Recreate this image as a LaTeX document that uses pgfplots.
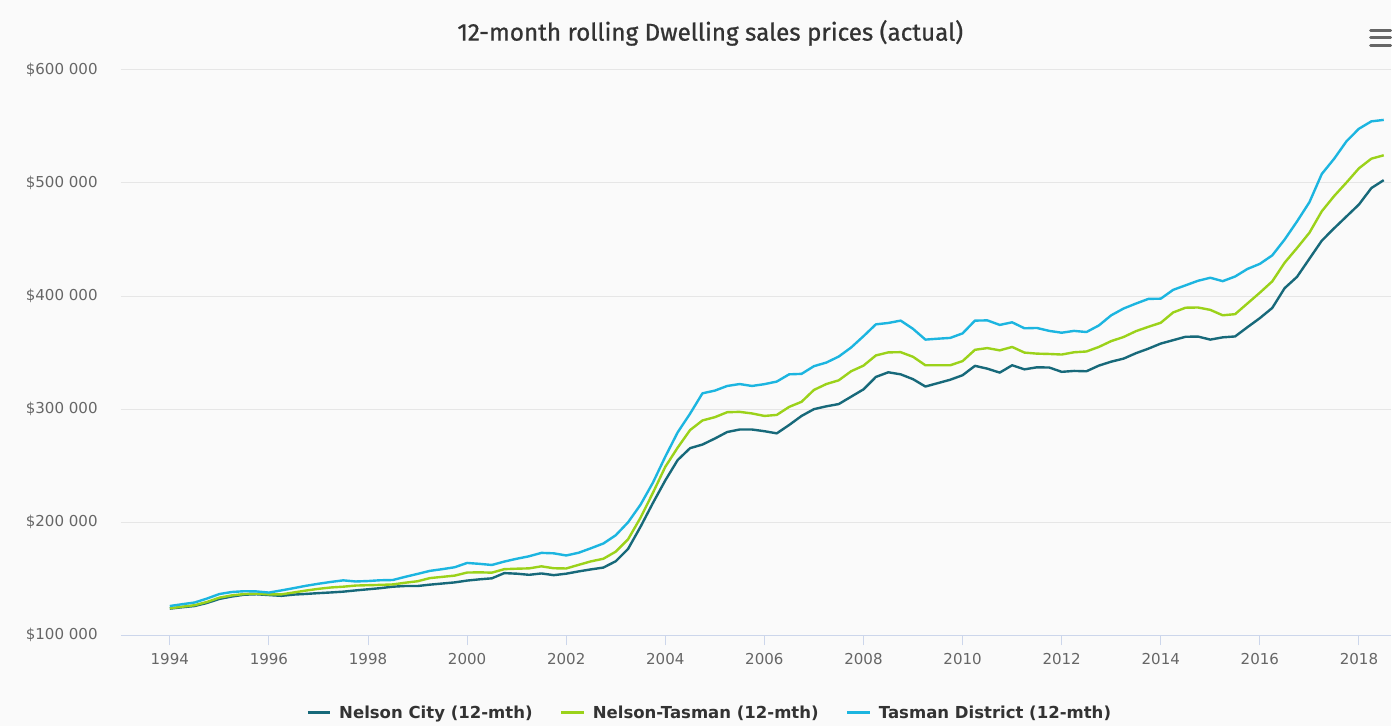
\documentclass[border=0pt]{standalone}
\usepackage{fontspec}
\setmainfont{DejaVu Sans}
\newfontfamily\titlefont[FakeBold=0.8]{Fira Sans}
\usepackage{pgfplots}
\pgfplotsset{compat=1.18}
\usepackage{pgfplotstable}

\definecolor{pagebg}{HTML}{FAFAFA}
\definecolor{gridgray}{HTML}{E6E6E6}
\definecolor{axisline}{HTML}{CCD6EB}
\definecolor{ticktext}{HTML}{666666}
\definecolor{titletext}{HTML}{333333}
\definecolor{nelsoncity}{HTML}{17697A}
\definecolor{nelsontasman}{HTML}{9BD21A}
\definecolor{tasmandist}{HTML}{1CB5E0}

% quarterly 12-month rolling prices, thousands of dollars
\pgfplotstableread{
t       city   nt     tasman
1994.00 123.6  123.9  125.9
1994.25 124.8  125.3  127.5
1994.50 125.9  126.6  129.0
1994.75 128.6  129.5  132.5
1995.00 132.2  133.3  136.5
1995.25 134.3  135.3  138.3
1995.50 135.9  136.5  139.0
1995.75 136.3  136.8  138.8
1996.00 135.6  136.2  137.8
1996.25 134.9  136.2  139.7
1996.50 136.0  137.9  141.7
1996.75 136.6  139.6  143.8
1997.00 137.3  141.1  145.6
1997.25 137.9  142.3  147.2
1997.50 138.6  143.0  148.6
1997.75 139.7  144.0  147.6
1998.00 140.7  144.3  148.0
1998.25 141.7  144.6  148.7
1998.50 143.0  145.0  148.9
1998.75 143.6  146.5  151.7
1999.00 143.6  147.8  154.3
1999.25 144.8  150.6  157.0
1999.50 145.8  151.7  158.5
1999.75 146.8  152.8  160.2
2000.00 148.4  155.5  164.0
2000.25 149.5  155.7  163.2
2000.50 150.4  155.4  162.2
2000.75 155.0  158.5  165.2
2001.00 154.5  158.9  167.7
2001.25 153.5  159.2  169.9
2001.50 154.7  161.0  172.9
2001.75 153.2  159.3  172.5
2002.00 154.5  159.1  170.6
2002.25 156.5  162.3  173.0
2002.50 158.3  165.4  177.0
2002.75 159.9  167.7  181.2
2003.00 165.5  174.0  188.5
2003.25 176.5  185.0  200.0
2003.50 196.0  204.0  215.5
2003.75 217.0  226.0  235.0
2004.00 237.0  249.0  258.0
2004.25 255.0  266.0  279.5
2004.50 265.5  281.5  296.0
2004.75 268.7  290.0  314.0
2005.00 274.0  292.9  316.4
2005.25 279.8  297.3  320.5
2005.50 282.0  297.6  322.2
2005.75 282.0  296.2  320.5
2006.00 280.5  294.0  322.1
2006.25 278.6  294.9  324.4
2006.50 286.0  302.0  330.8
2006.75 294.0  306.5  331.2
2007.00 300.0  317.0  338.0
2007.25 302.5  322.2  341.2
2007.50 304.5  325.5  346.5
2007.75 311.0  333.5  354.5
2008.00 317.5  338.5  364.5
2008.25 328.5  347.5  375.0
2008.50 332.6  350.2  376.2
2008.75 330.8  350.4  378.3
2009.00 326.5  346.3  371.0
2009.25 320.0  338.8  361.5
2009.50 323.0  338.8  362.3
2009.75 326.0  338.8  363.0
2010.00 330.0  342.5  367.0
2010.25 338.3  352.5  378.3
2010.50 335.8  354.0  378.5
2010.75 332.3  352.0  374.5
2011.00 338.8  355.0  376.8
2011.25 335.2  350.0  371.5
2011.50 337.0  349.1  371.8
2011.75 336.8  348.8  369.2
2012.00 333.0  348.3  367.6
2012.25 333.8  350.3  369.2
2012.50 333.5  351.0  368.2
2012.75 338.5  355.0  374.0
2013.00 342.0  360.2  383.0
2013.25 344.7  363.8  389.0
2013.50 349.5  369.0  393.4
2013.75 353.5  372.8  397.5
2014.00 358.0  376.4  397.7
2014.25 361.0  385.5  405.5
2014.50 364.0  389.7  409.5
2014.75 364.2  389.9  413.5
2015.00 361.5  387.8  416.2
2015.25 363.5  383.0  413.2
2015.50 364.3  384.0  417.3
2015.75 372.5  393.5  424.0
2016.00 380.5  403.0  428.5
2016.25 389.5  413.0  436.0
2016.50 407.0  429.5  450.0
2016.75 417.0  442.5  466.0
2017.00 433.0  456.0  483.0
2017.25 449.0  475.0  508.0
2017.50 460.0  488.5  521.5
2017.75 470.5  500.5  537.0
2018.00 481.0  513.0  548.0
2018.25 495.5  521.5  554.5
2018.50 502.5  524.5  555.8
}\prices

\begin{document}
\begin{tikzpicture}
\fill[pagebg] (0,0) rectangle (1044pt,545.25pt);
\node[font=\titlefont\fontsize{18.2}{21}\selectfont, text=titletext] at (533.25pt,520.5pt)
  {12-month rolling Dwelling sales prices (actual)};
% menu icon
\foreach \yy in {522.2,516.9,510.9}
  \draw[ticktext, line width=2.25pt, line cap=round] (1029pt,\yy pt) -- (1044pt,\yy pt);
\begin{axis}[
  at={(90.75pt,68.25pt)}, anchor=south west,
  scale only axis, width=953.25pt, height=424.5pt,
  xmin=1993.012, xmax=2018.637, ymin=100, ymax=600,
  axis line style={draw=none},
  xtick={1994,1996,1998,2000,2002,2004,2006,2008,2010,2012,2014,2016,2018},
  xticklabels={1994,1996,1998,2000,2002,2004,2006,2008,2010,2012,2014,2016,2018},
  xtick pos=bottom, xtick align=outside, major tick length=7.5pt,
  xtick style={draw=axisline, line width=0.75pt},
  ytick={200,300,400,500,600},
  yticklabels={\$200 000,\$300 000,\$400 000,\$500 000,\$600 000},
  ytick align=inside, ytick style={draw=none},
  extra y ticks={100}, extra y tick labels={\$100 000},
  extra y tick style={grid style={draw=axisline, line width=0.75pt}},
  ymajorgrids, grid style={draw=gridgray, line width=0.75pt},
  tick label style={font=\fontsize{11.3}{13}\selectfont, text=ticktext, inner sep=0pt},
  xticklabel style={anchor=north, yshift=-5.5pt},
  yticklabel style={anchor=east, xshift=-17.25pt},
  legend columns=3,
  legend style={draw=none, fill=none, at={(0.464,-0.137)}, anchor=center,
    font=\bfseries\fontsize{12.4}{14}\selectfont, text=titletext,
    /tikz/every odd column/.append style={column sep=3.5pt},
    /tikz/every even column/.append style={column sep=18.5pt}},
  legend image code/.code={\draw[#1, line width=2.25pt] (0pt,0pt) -- (17pt,0pt);},
  every axis plot/.append style={line width=1.8pt, line join=round},
]
\addplot[nelsoncity] table[x=t, y=city] {\prices};
\addlegendentry{Nelson City (12-mth)}
\addplot[nelsontasman] table[x=t, y=nt] {\prices};
\addlegendentry{Nelson-Tasman (12-mth)}
\addplot[tasmandist] table[x=t, y=tasman] {\prices};
\addlegendentry{Tasman District (12-mth)}
\end{axis}
\end{tikzpicture}
\end{document}
